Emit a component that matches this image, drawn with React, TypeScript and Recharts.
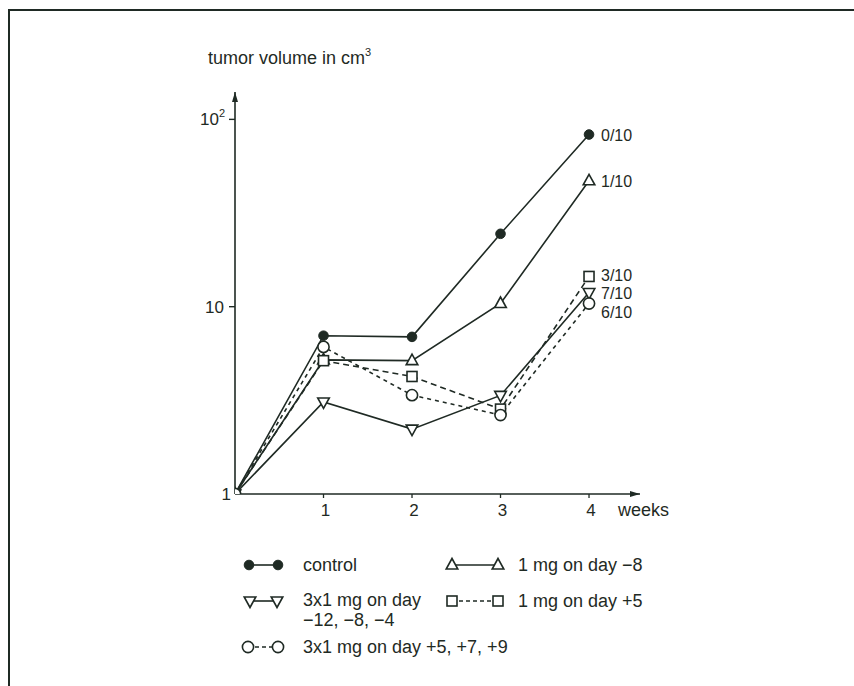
import React from 'react';
import { LineChart, Line, XAxis, YAxis, LabelList } from 'recharts';

// weeks after tumour inoculation, tumour volume in cm³ (log scale)
const weeks = [0, 1, 2, 3, 4];
const control = [1, 7.0, 6.9, 24.5, 83];
const oneMgDayMinus8 = [1, 5.2, 5.15, 10.4, 47];
const threeMgBefore = [1, 3.1, 2.22, 3.36, 11.9];
const oneMgDayPlus5 = [1, 5.15, 4.24, 2.84, 14.5];
const threeMgAfter = [1, 6.1, 3.37, 2.64, 10.4];

// animals with tumour-free outcome at the end of the study
const outcomes = ['0/10', '1/10', '7/10', '3/10', '6/10'];

const yTicks = [1, 10, 100];
const xTicks = [1, 2, 3, 4];

const INK = '#1f2a24';
const FONT = '"Liberation Sans", Arial, Helvetica, sans-serif';
const LINE_W = 1.6;

type Shape = 'dot' | 'up' | 'down' | 'square' | 'ring';

const series: { key: string; values: number[]; shape: Shape; dash?: string; outcome: string; labelDy: number }[] = [
  { key: 'control', values: control, shape: 'dot', outcome: outcomes[0], labelDy: 0 },
  { key: 'day_m8', values: oneMgDayMinus8, shape: 'up', outcome: outcomes[1], labelDy: 0 },
  { key: 'pre3x', values: threeMgBefore, shape: 'down', outcome: outcomes[2], labelDy: 0 },
  { key: 'day_p5', values: oneMgDayPlus5, shape: 'square', dash: '6 4', outcome: outcomes[3], labelDy: -1 },
  { key: 'post3x', values: threeMgAfter, shape: 'ring', dash: '4 4', outcome: outcomes[4], labelDy: 9 },
];

const rows = weeks.map((w, i) => {
  const row: Record<string, number> = { week: w };
  series.forEach((s) => (row[s.key] = s.values[i]));
  return row;
});

function Marker({ shape, cx, cy }: { shape: Shape; cx: number; cy: number }) {
  const common = { stroke: INK, strokeWidth: LINE_W, fill: '#fff' };
  switch (shape) {
    case 'dot':
      return <circle cx={cx} cy={cy} r={4.8} fill={INK} stroke={INK} />;
    case 'up':
      return <polygon points={`${cx},${cy - 6.5} ${cx - 5.8},${cy + 4} ${cx + 5.8},${cy + 4}`} {...common} />;
    case 'down':
      return <polygon points={`${cx - 5.8},${cy - 4} ${cx + 5.8},${cy - 4} ${cx},${cy + 6.5}`} {...common} />;
    case 'square':
      return <rect x={cx - 5} y={cy - 5} width={10} height={10} {...common} />;
    default:
      return <circle cx={cx} cy={cy} r={5.6} {...common} />;
  }
}

const YTick = (props: any) => {
  const { x, y, payload } = props;
  const v = payload.value;
  return (
    <g>
      {v !== 1 && <line x1={x + 2} x2={x + 8} y1={y} y2={y} stroke={INK} strokeWidth={1.4} />}
      {v === 100 ? (
        <text x={x - 2} y={y + 6} textAnchor="end" fontSize={17} fill={INK} fontFamily={FONT}>
          10
          <tspan fontSize={11} dy={-8}>2</tspan>
        </text>
      ) : (
        <text x={v === 1 ? x + 4 : x - 3} y={y + 6} textAnchor="end" fontSize={17} fill={INK} fontFamily={FONT}>
          {v}
        </text>
      )}
    </g>
  );
};

const XTick = (props: any) => {
  const { x, y, payload } = props;
  return (
    <text x={x + 2} y={y + 16} textAnchor="middle" fontSize={17} fill={INK} fontFamily={FONT}>
      {payload.value}
    </text>
  );
};

function LegendRow({ shape, dash, y, x1, x2 }: { shape: Shape; dash?: boolean; y: number; x1: number; x2: number }) {
  return (
    <g>
      <line x1={x1} x2={x2} y1={y} y2={y} stroke={INK} strokeWidth={LINE_W} strokeDasharray={dash ? '4 3' : undefined} />
      <Marker shape={shape} cx={x1} cy={y} />
      <Marker shape={shape} cx={x2} cy={y} />
    </g>
  );
}

function ChartLegend() {
  const t = { fontSize: 18, fill: INK, fontFamily: FONT };
  return (
    <svg width={854} height={146} style={{ position: 'absolute', left: 0, top: 540 }}>
      <LegendRow shape="dot" y={25} x1={249} x2={278} />
      <text x={303} y={31} {...t}>control</text>
      <LegendRow shape="up" y={25} x1={452} x2={498} />
      <text x={518} y={31} {...t}>1 mg on day −8</text>

      <LegendRow shape="down" y={61} x1={250} x2={277} />
      <text x={303} y={66} {...t}>3x1 mg on day</text>
      <text x={303} y={86} {...t}>−12, −8, −4</text>
      <LegendRow shape="square" dash y={61} x1={452} x2={498} />
      <text x={518} y={67} {...t}>1 mg on day +5</text>

      <LegendRow shape="ring" dash y={107} x1={248} x2={278} />
      <text x={303} y={113} {...t}>3x1 mg on day +5, +7, +9</text>
    </svg>
  );
}

export default function App() {
  return (
    <div style={{ position: 'absolute', left: 0, top: 0, width: 854, height: 686, background: '#fff', overflow: 'hidden' }}>
      <svg width={0} height={0} style={{ position: 'absolute' }}>
        <defs>
          <marker id="axisArrow" viewBox="0 0 10 8" refX={10} refY={4} markerWidth={10} markerHeight={8}
            markerUnits="userSpaceOnUse" orient="auto-start-reverse">
            <path d="M0,1 L10,4 L0,7 Z" fill={INK} />
          </marker>
        </defs>
      </svg>
      <div style={{ position: 'absolute', left: 8, top: 9, width: 870, height: 690, borderTop: `2px solid ${INK}`, borderLeft: `2px solid ${INK}` }} />

      <LineChart width={854} height={686} data={rows} margin={{ top: 92, right: 214, bottom: 162, left: 175 }}
        style={{ position: 'absolute', left: 0, top: 0 }}>
        <XAxis dataKey="week" type="number" domain={[0, 4.576]} ticks={xTicks} allowDataOverflow height={30}
          tickSize={4} tickLine={{ stroke: INK, strokeWidth: 1.3 }}
          axisLine={{ stroke: INK, strokeWidth: LINE_W, markerEnd: 'url(#axisArrow)' }}
          tick={<XTick />}
          label={{ content: () => <text x={618} y={516} fontSize={18} fill={INK} fontFamily={FONT}>weeks</text> }} />
        <YAxis type="number" scale="log" domain={[1, 140]} ticks={yTicks} allowDataOverflow width={60}
          tickSize={6} tickMargin={2} tickLine={false}
          axisLine={{ stroke: INK, strokeWidth: LINE_W, markerStart: 'url(#axisArrow)' }}
          tick={<YTick />}
          label={{
            content: () => (
              <text x={208} y={64} fontSize={18} fill={INK} fontFamily={FONT}>
                tumor volume in cm<tspan fontSize={11} dy={-8}>3</tspan>
              </text>
            ),
          }} />
        {series.map((s) => (
          <Line key={s.key} dataKey={s.key} type="linear" stroke={INK} strokeWidth={LINE_W} strokeDasharray={s.dash}
            isAnimationActive={false}
            dot={(p: any) => <Marker key={`${s.key}-${p.index}`} shape={s.shape} cx={p.cx} cy={p.cy} />}
            activeDot={false}>
            <LabelList dataKey={s.key} content={(p: any) =>
              p.index === weeks.length - 1 ? (
                <text key={`${s.key}-lbl`} x={p.x + 12} y={p.y + 6 + s.labelDy} fontSize={16} fill={INK} fontFamily={FONT}>
                  {s.outcome}
                </text>
              ) : null
            } />
          </Line>
        ))}
      </LineChart>

      <ChartLegend />
    </div>
  );
}
